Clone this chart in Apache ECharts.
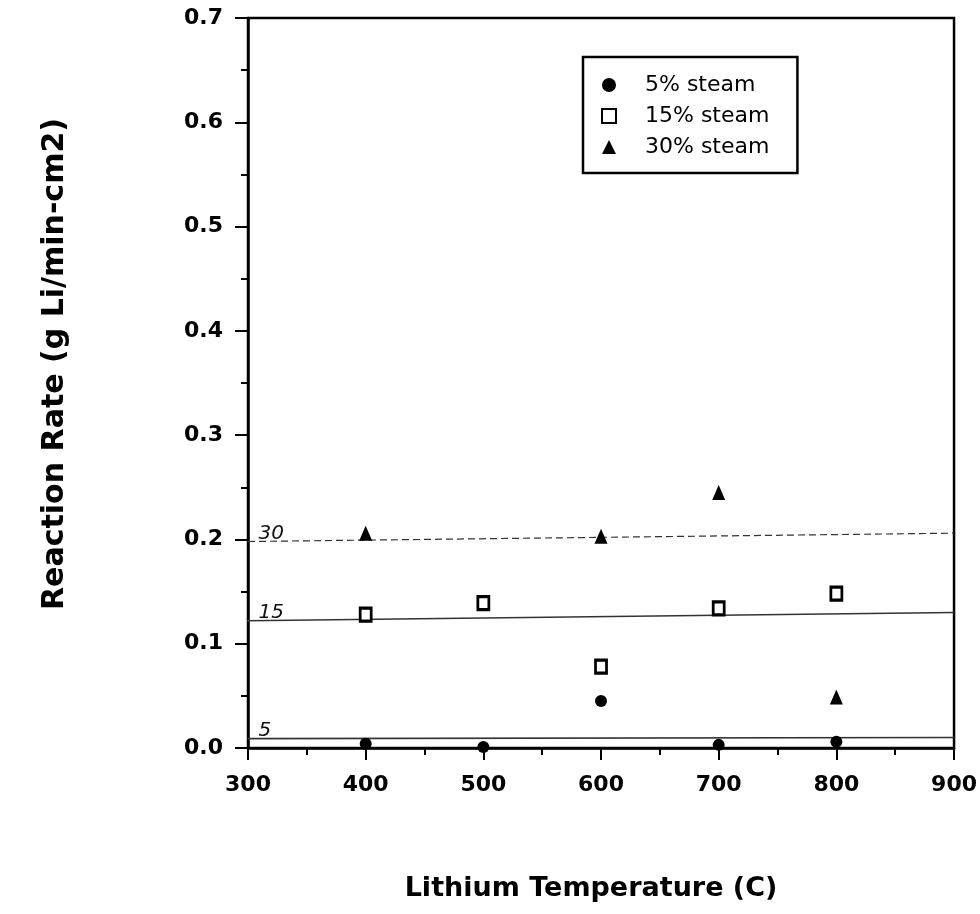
<!DOCTYPE html>
<html><head><meta charset="utf-8">
<script src="https://cdn.jsdelivr.net/npm/echarts@6/dist/echarts.min.js"></script>
<style>html,body{margin:0;padding:0;background:#fff}#c{width:980px;height:914px}</style>
</head><body><div id="c"></div>
<script>
const temps5 = [400, 500, 600, 700, 800];
const rate5 = [0.004, 0.001, 0.045, 0.003, 0.006];
const temps15 = [400, 500, 600, 700, 800];
const rate15 = [0.128, 0.139, 0.078, 0.134, 0.148];
const temps30 = [400, 600, 700, 800];
const rate30 = [0.206, 0.203, 0.245, 0.049];
const refLineX = [300, 900];
const ref30 = [0.198, 0.206];
const ref15 = [0.122, 0.130];
const ref5 = [0.009, 0.010];
const refNames = ['30', '15', '5'];
const seriesNames = ['5% steam', '15% steam', '30% steam'];
const xTicks = [300, 400, 500, 600, 700, 800, 900];
const yTicks = [0.0, 0.1, 0.2, 0.3, 0.4, 0.5, 0.6, 0.7];

const pair = (xs, ys) => xs.map((x, i) => [x, ys[i]]);
function refSeries(ys, lbl, dash, w) {
  return {
    type: 'line', silent: true, symbol: 'none', z: 1,
    lineStyle: { color: '#333', width: w, type: dash },
    data: pair(refLineX, ys).map((p, i) => i === 0 ? {
      value: p, symbol: 'circle', symbolSize: 1,
      label: { show: true, formatter: lbl, position: [11, -17], fontFamily: 'DejaVu Sans', fontStyle: 'italic', fontWeight: 'normal', fontSize: 20, color: '#111' }
    } : { value: p }),
    tooltip: { show: false }
  };
}
const chart = echarts.init(document.getElementById('c'));
chart.setOption({
  animation: false,
  textStyle: { fontFamily: 'DejaVu Sans, sans-serif' },
  grid: { left: 248, right: 25, top: 18, bottom: 166, show: true, borderColor: '#000', borderWidth: 2.5, backgroundColor: 'transparent' },
  legend: {
    orient: 'vertical', left: 583, top: 57, data: seriesNames,
    borderColor: '#000', borderWidth: 2.5, padding: [17, 28, 15, 18],
    itemGap: 9, itemWidth: 14, itemHeight: 14,
    textStyle: { fontSize: 22, lineHeight: 22, color: '#000', fontFamily: 'DejaVu Sans, sans-serif', padding: [0, 0, 0, 24] }
  },
  xAxis: {
    type: 'value', min: 300, max: 900, interval: 100,
    name: 'Lithium Temperature (C)', nameLocation: 'middle', nameGap: 127,
    nameTextStyle: { fontSize: 27, fontWeight: 'bold', color: '#000', padding: [0, 20, 0, 0] },
    axisLine: { lineStyle: { color: '#000', width: 2.5 } },
    axisTick: { inside: false, length: 12, lineStyle: { color: '#000', width: 2 } },
    minorTick: { show: true, splitNumber: 2, length: 7, lineStyle: { color: '#000', width: 2 } },
    axisLabel: { fontSize: 22, fontWeight: 'bold', color: '#000', margin: 26 },
    splitLine: { show: false }
  },
  yAxis: {
    type: 'value', min: 0, max: 0.7, interval: 0.1,
    name: 'Reaction Rate (g Li/min-cm2)', nameLocation: 'middle', nameGap: 178, nameRotate: 90,
    nameTextStyle: { fontSize: 30, fontWeight: 'bold', color: '#000', padding: [0, 0, 0, 38] },
    axisLine: { lineStyle: { color: '#000', width: 2.5 } },
    axisTick: { inside: false, length: 13, lineStyle: { color: '#000', width: 2 } },
    minorTick: { show: true, splitNumber: 2, length: 7, lineStyle: { color: '#000', width: 2 } },
    axisLabel: { fontSize: 22, fontWeight: 'bold', color: '#000', margin: 25, formatter: v => v.toFixed(1) },
    splitLine: { show: false }
  },
  series: [
    refSeries(ref30, refNames[0], [7, 4], 1.2),
    refSeries(ref15, refNames[1], 'solid', 1.4),
    refSeries(ref5, refNames[2], 'solid', 1.6),
    { name: seriesNames[0], type: 'scatter', symbol: 'circle', symbolSize: 12, z: 5,
      itemStyle: { color: '#000', opacity: 1 }, data: pair(temps5, rate5) },
    { name: seriesNames[1], type: 'scatter', symbol: 'rect', symbolSize: [11, 13], z: 5,
      itemStyle: { color: '#fff', borderColor: '#000', borderWidth: 3, opacity: 1 }, data: pair(temps15, rate15) },
    { name: seriesNames[2], type: 'scatter', symbol: 'triangle', symbolSize: [13, 15], z: 5,
      itemStyle: { color: '#000', opacity: 1 }, data: pair(temps30, rate30) }
  ]
});
</script></body></html>
